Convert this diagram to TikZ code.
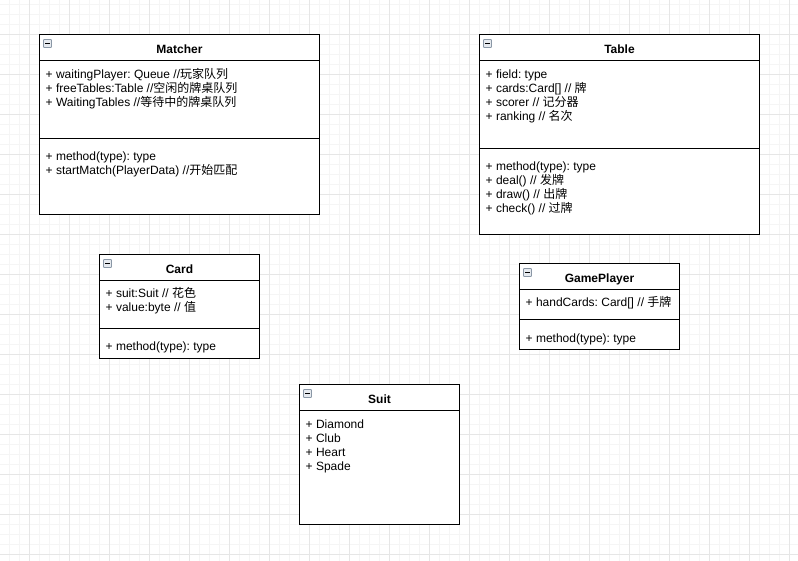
\documentclass[tikz,border=0pt]{standalone}
\usepackage{fontspec}
\setmainfont{Liberation Sans}
\newfontfamily\cjk{Noto Sans CJK SC}
\frenchspacing
\definecolor{minorline}{HTML}{F5F5F5}
\definecolor{majorline}{HTML}{E6E6E6}
\definecolor{iconedge}{HTML}{8A97A6}
\definecolor{iconfill}{HTML}{E6EAEF}
\tikzset{
  classbox/.style={draw=black, line width=1pt, fill=white},
  member/.style={anchor=base west, inner sep=0pt, font=\fontsize{12}{14}\selectfont},
  classname/.style={anchor=base, inner sep=0pt, font=\fontsize{12}{14}\selectfont\bfseries},
  minorgrid/.style={draw=minorline, line width=1pt},
  majorgrid/.style={draw=majorline, line width=1pt},
  iconbox/.style={draw=iconedge, fill=iconfill, line width=0.8pt, rounded corners=0.8pt}
}
\begin{document}
\begin{tikzpicture}[x=1pt, y={(0pt,-1pt)}]
      \useasboundingbox (0, 0) rectangle (798, 561);
      \fill [white] (0, 0) rectangle (798, 561);
      \begin{scope}[shift={(0.5, 0.5)}]
      % background grid
      \foreach \gx in {9, 19, ..., 789} \draw [minorgrid] (\gx, -1) -- (\gx, 561);
      \foreach \gy in {4, 14, ..., 554} \draw [minorgrid] (-1, \gy) -- (798, \gy);
      \foreach \gx in {29, 69, ..., 789} \draw [majorgrid] (\gx, -1) -- (\gx, 561);
      \foreach \gy in {34, 74, ..., 554} \draw [majorgrid] (-1, \gy) -- (798, \gy);
      % Matcher
      \draw [classbox] (39, 34) rectangle (319, 214);
      \draw [line width=1pt] (39, 60) -- (319, 60)
                             (39, 138) -- (319, 138);
      \draw [iconbox] (43, 39) rectangle (51, 47);
      \draw [line width=1pt] (44.8, 43) -- (49.2, 43);
      \node [classname] (matcherName) at (179, 53) {Matcher};
      \node [member] (matcherA) at (45, 78) {+ waitingPlayer: Queue //{\cjk 玩家队列}};
      \node [member] (matcherB) at (45, 92) {+ freeTables:Table //{\cjk 空闲的牌桌队列}};
      \node [member] (matcherC) at (45, 106) {+ WaitingTables //{\cjk 等待中的牌桌队列}};
      \node [member] (matcherM) at (45, 160.5) {+ method(type): type};
      \node [member] (matcherN) at (45, 174.5) {+ startMatch(PlayerData) //{\cjk 开始匹配}};
      % Table
      \draw [classbox] (479, 34) rectangle (759, 234);
      \draw [line width=1pt] (479, 60) -- (759, 60)
                             (479, 148) -- (759, 148);
      \draw [iconbox] (483, 39) rectangle (491, 47);
      \draw [line width=1pt] (484.8, 43) -- (489.2, 43);
      \node [classname] (tableName) at (619, 53) {Table};
      \node [member] (tableA) at (485, 78) {+ field: type};
      \node [member] (tableB) at (485, 92) {+ cards:Card[] // {\cjk 牌}};
      \node [member] (tableC) at (485, 106) {+ scorer // {\cjk 记分器}};
      \node [member] (tableD) at (485, 120) {+ ranking // {\cjk 名次}};
      \node [member] (tableM) at (485, 170) {+ method(type): type};
      \node [member] (tableN) at (485, 184) {+ deal() // {\cjk 发牌}};
      \node [member] (tableO) at (485, 198) {+ draw() // {\cjk 出牌}};
      \node [member] (tableP) at (485, 212) {+ check() // {\cjk 过牌}};
      % Card
      \draw [classbox] (99, 254) rectangle (259, 358);
      \draw [line width=1pt] (99, 280) -- (259, 280)
                             (99, 328.5) -- (259, 328.5);
      \draw [iconbox] (103, 259) rectangle (111, 267);
      \draw [line width=1pt] (104.8, 263) -- (109.2, 263);
      \node [classname] (cardName) at (179, 273) {Card};
      \node [member] (cardA) at (105, 297) {+ suit:Suit // {\cjk 花色}};
      \node [member] (cardB) at (105, 311) {+ value:byte // {\cjk 值}};
      \node [member] (cardM) at (105, 350.5) {+ method(type): type};
      % GamePlayer
      \draw [classbox] (519, 263) rectangle (679, 349);
      \draw [line width=1pt] (519, 289) -- (679, 289)
                             (519, 319) -- (679, 319);
      \draw [iconbox] (523, 268) rectangle (531, 276);
      \draw [line width=1pt] (524.8, 272) -- (529.2, 272);
      \node [classname] (playerName) at (599, 282.5) {GamePlayer};
      \node [member] (playerA) at (525, 306.5) {+ handCards: Card[] // {\cjk 手牌}};
      \node [member] (playerM) at (525, 341.5) {+ method(type): type};
      % Suit
      \draw [classbox] (299, 384) rectangle (459, 524);
      \draw [line width=1pt] (299, 410) -- (459, 410);
      \draw [iconbox] (303, 389) rectangle (311, 397);
      \draw [line width=1pt] (304.8, 393) -- (309.2, 393);
      \node [classname] (suitName) at (379, 403) {Suit};
      \node [member] (suitA) at (305, 427.5) {+ Diamond};
      \node [member] (suitB) at (305, 441.5) {+ Club};
      \node [member] (suitC) at (305, 455.5) {+ Heart};
      \node [member] (suitD) at (305, 469.5) {+ Spade};
      \end{scope}
\end{tikzpicture}
\end{document}
